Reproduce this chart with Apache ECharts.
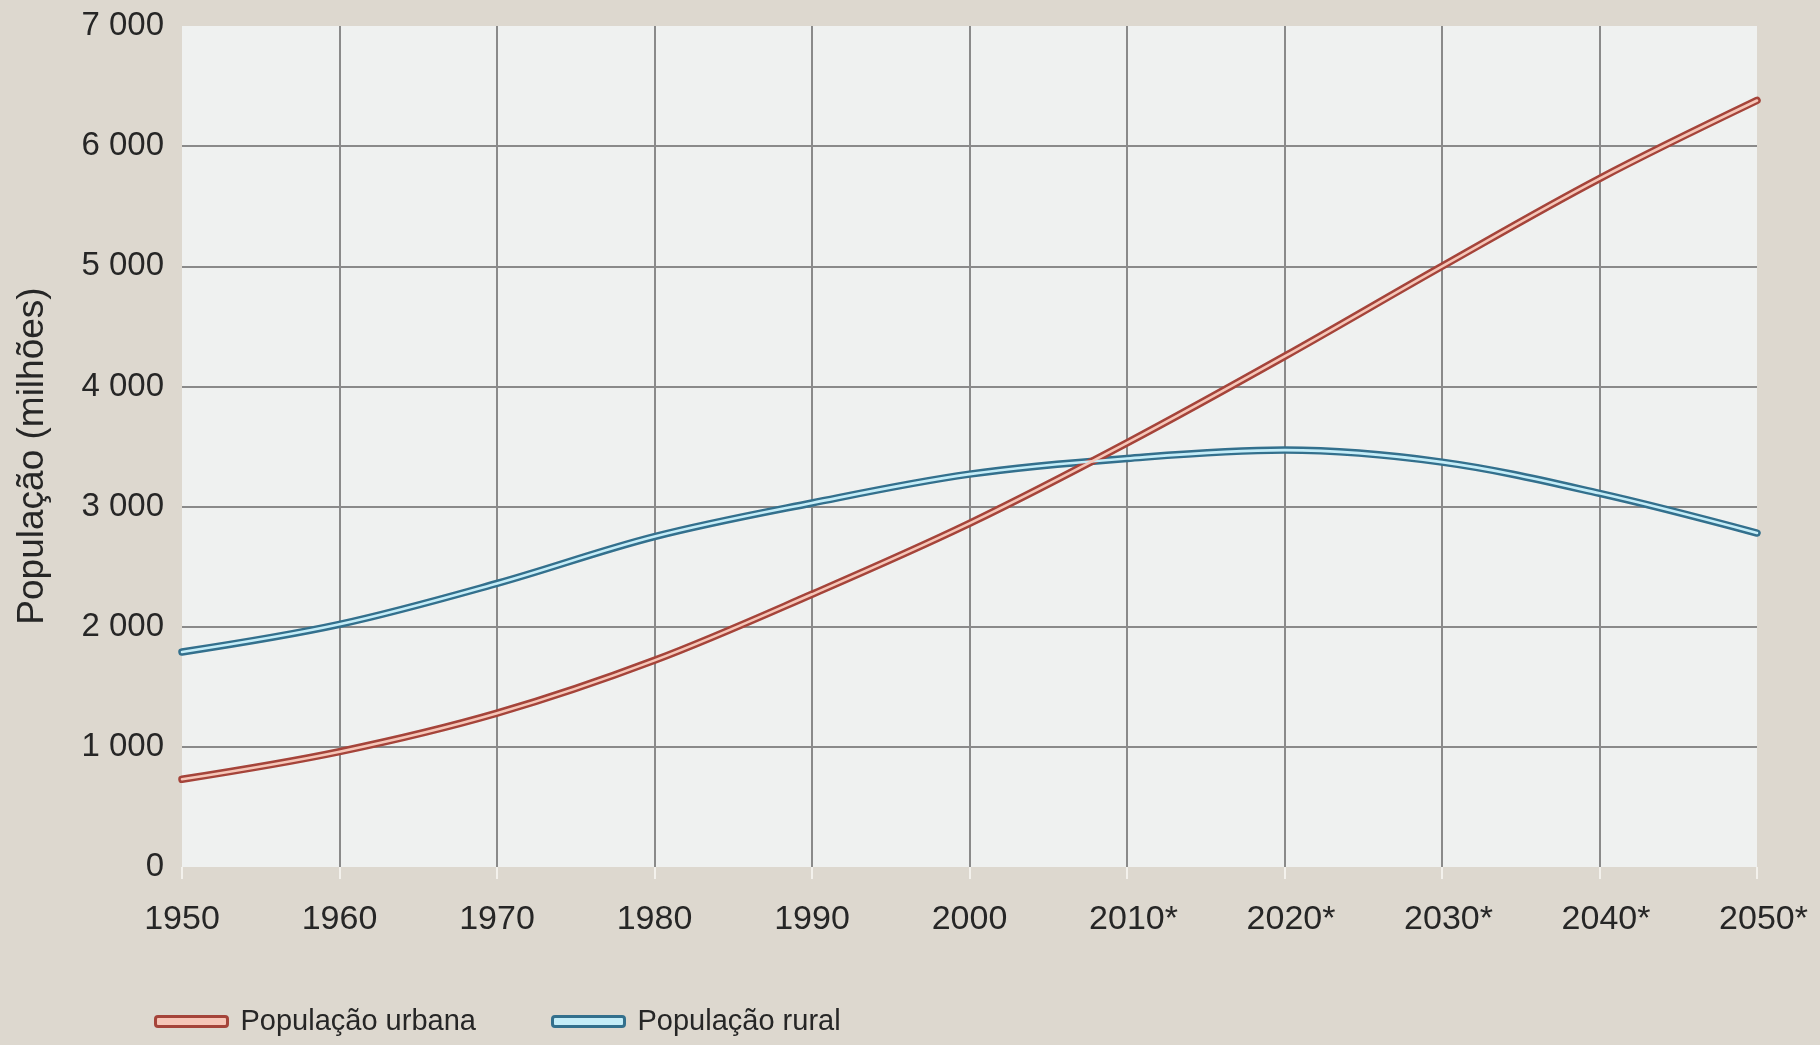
<!DOCTYPE html>
<html>
<head>
<meta charset="utf-8">
<script src="https://cdn.jsdelivr.net/npm/echarts@6/dist/echarts.min.js"></script>
<style>
  html, body { margin: 0; padding: 0; background: #ddd8cf; }
  #chart { width: 1820px; height: 1045px; }
</style>
</head>
<body>
<div id="chart"></div>
<script>
// ---- data ----
const categories = ['1950', '1960', '1970', '1980', '1990', '2000', '2010*', '2020*', '2030*', '2040*', '2050*'];
const urbana = [730, 960, 1280, 1720, 2270, 2860, 3530, 4250, 5000, 5730, 6380];
const rural = [1790, 2020, 2360, 2750, 3030, 3270, 3400, 3470, 3370, 3110, 2780];
const yTickValues = [0, 1000, 2000, 3000, 4000, 5000, 6000, 7000];
const yTickLabels = ['0', '1 000', '2 000', '3 000', '4 000', '5 000', '6 000', '7 000'];
const nameUrbana = 'População urbana';
const nameRural = 'População rural';
const yTitle = 'População (milhões)';

const FONT = '"Liberation Sans", Arial, Helvetica, sans-serif';
const RED_DARK = '#a5443a', RED_LIGHT = '#f6c6b8';
const BLUE_DARK = '#33708d', BLUE_LIGHT = '#c4edf8';

const chart = echarts.init(document.getElementById('chart'));

function pair(name, data, dark, light) {
  return [
    { name, type: 'line', data, smooth: 0.35, symbol: 'none', z: 3,
      lineStyle: { color: dark, width: 7.5, cap: 'round', join: 'round' } },
    { name, type: 'line', data, smooth: 0.35, symbol: 'none', z: 4,
      lineStyle: { color: light, width: 2.6, cap: 'round', join: 'round' } }
  ];
}

chart.setOption({
  backgroundColor: '#ddd8cf',
  animation: false,
  grid: {
    left: 182, right: 63, top: 26, bottom: 178,
    show: true, backgroundColor: '#eff1f0', borderWidth: 0
  },
  legend: [
    {
      left: 154, top: 1007, padding: 0,
      itemWidth: 72, itemHeight: 10,
      textStyle: { fontFamily: FONT, fontSize: 29, color: '#262626', padding: [0, 0, 0, 8] },
      data: [{ name: nameUrbana, icon: 'roundRect',
        itemStyle: { color: RED_LIGHT, borderColor: RED_DARK, borderWidth: 3 } }]
    },
    {
      left: 551, top: 1007, padding: 0,
      itemWidth: 72, itemHeight: 10,
      textStyle: { fontFamily: FONT, fontSize: 29, color: '#262626', padding: [0, 0, 0, 8] },
      data: [{ name: nameRural, icon: 'roundRect',
        itemStyle: { color: BLUE_LIGHT, borderColor: BLUE_DARK, borderWidth: 3 } }]
    }
  ],
  xAxis: {
    type: 'category',
    data: categories,
    boundaryGap: false,
    axisLine: { show: false },
    axisTick: { show: true, length: 12, lineStyle: { color: '#f3f1ec', width: 2 } },
    axisLabel: {
      margin: 36,
      interval: 0,
      fontFamily: FONT, fontSize: 34, color: '#262626',
      formatter: function (v) {
        if (v.indexOf('*') >= 0) return '{p|}{n|' + v.replace('*', '') + '}{s|*}';
        return '{n|' + v + '}';
      },
      rich: {
        p: { width: 13 },
        n: { fontFamily: FONT, fontSize: 34, color: '#262626' },
        s: { fontFamily: FONT, fontSize: 34, color: '#262626' }
      }
    },
    splitLine: {
      show: true,
      interval: function (index) { return index > 0 && index < categories.length - 1; },
      lineStyle: { color: '#8a8a8a', width: 2 }
    }
  },
  yAxis: {
    type: 'value',
    min: yTickValues[0],
    max: yTickValues[yTickValues.length - 1],
    interval: 1000,
    axisLine: { show: false },
    axisTick: { show: false },
    axisLabel: {
      margin: 18,
      fontFamily: FONT, fontSize: 33, color: '#262626',
      formatter: function (v) {
        const i = yTickValues.indexOf(v);
        return i >= 0 ? yTickLabels[i] : '';
      }
    },
    splitLine: {
      show: true, showMinLine: false, showMaxLine: false,
      lineStyle: { color: '#8a8a8a', width: 2 }
    }
  },
  graphic: [{
    type: 'text',
    x: 33, y: 456,
    rotation: Math.PI / 2,
    style: {
      text: yTitle,
      fontFamily: FONT, fontSize: 37, fill: '#262626',
      textAlign: 'center', textVerticalAlign: 'middle'
    }
  }],
  series: [
    ...pair(nameRural, rural, BLUE_DARK, BLUE_LIGHT),
    ...pair(nameUrbana, urbana, RED_DARK, RED_LIGHT)
  ]
});
</script>
</body>
</html>
